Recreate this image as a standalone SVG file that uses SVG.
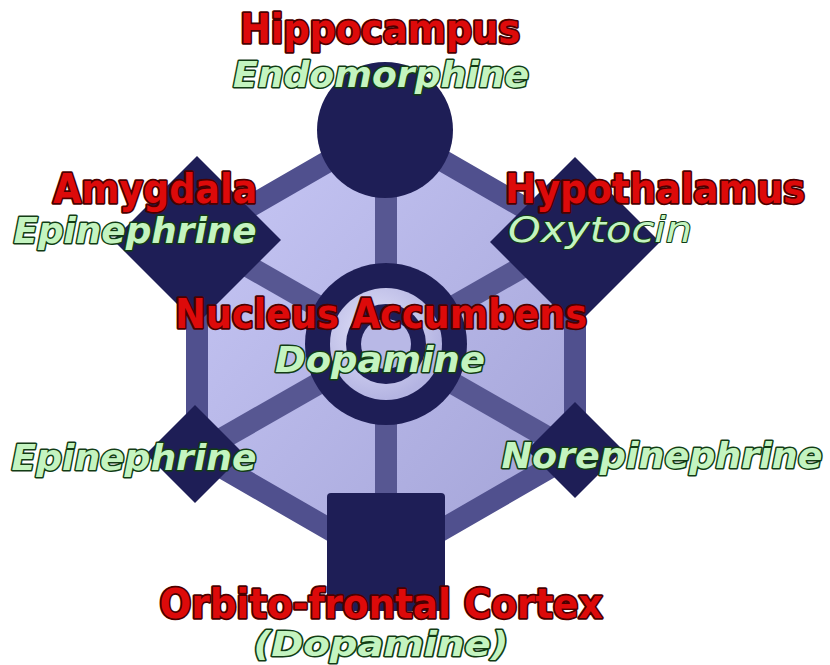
<svg xmlns="http://www.w3.org/2000/svg" width="830" height="665" viewBox="0 0 830 665">
<defs>
<linearGradient id="hexFill" x1="0" y1="0" x2="1" y2="1">
<stop offset="0" stop-color="#c8c8f6"/>
<stop offset="1" stop-color="#a2a2d6"/>
</linearGradient>
<radialGradient id="bandFill" cx="0.4" cy="0.4" r="0.6">
<stop offset="0" stop-color="#e4e4fa"/>
<stop offset="1" stop-color="#b4b4e2"/>
</radialGradient>
<style>
.edge{fill:none;stroke:#50508e;stroke-width:22;stroke-linejoin:round}
.spoke{fill:none;stroke:#575792;stroke-width:22}
.node{fill:#1e1e56}
.name{font-family:"DejaVu Sans Condensed","DejaVu Sans","Liberation Sans",sans-serif;font-weight:bold;fill:#dd0a0a;stroke:#4a0000;stroke-width:3.4;paint-order:stroke;stroke-linejoin:round}
.chem{font-family:"DejaVu Sans","Liberation Sans",sans-serif;font-style:italic;font-weight:bold;fill:#c4f4c0;stroke:#123c14;stroke-width:3;paint-order:stroke;stroke-linejoin:round}
</style>
</defs>
<rect width="830" height="665" fill="#ffffff"/>
<polygon id="hexagon" points="386,128 197,237 197,453 386,562 575,453 575,237" fill="url(#hexFill)"/>
<g id="connectors">
<polygon class="edge" points="386,128 197,237 197,453 386,562 575,453 575,237"/>
<line class="spoke" x1="386" y1="128" x2="386" y2="562"/>
<line class="spoke" x1="197" y1="237" x2="575" y2="453"/>
<line class="spoke" x1="575" y1="237" x2="197" y2="453"/>
</g>
<g id="hippocampus">
<circle class="node" cx="385" cy="130" r="68"/>
<text class="name" x="380" y="43" text-anchor="middle" font-size="40" textLength="280" lengthAdjust="spacingAndGlyphs">Hippocampus</text>
<text class="chem" x="381" y="87" text-anchor="middle" font-size="36" textLength="296" lengthAdjust="spacingAndGlyphs">Endomorphine</text>
</g>
<g id="amygdala">
<polygon class="node" points="197,156 281,240 197,324 113,240"/>
<text class="name" x="155" y="203" text-anchor="middle" font-size="40" textLength="204" lengthAdjust="spacingAndGlyphs">Amygdala</text>
<text class="chem" x="135" y="243" text-anchor="middle" font-size="36" textLength="243" lengthAdjust="spacingAndGlyphs">Epinephrine</text>
</g>
<g id="hypothalamus">
<polygon class="node" points="575,157 660,242 575,327 490,242"/>
<text class="name" x="655" y="203" text-anchor="middle" font-size="40" textLength="300" lengthAdjust="spacingAndGlyphs">Hypothalamus</text>
<text class="chem" x="600" y="242" text-anchor="middle" font-size="36" textLength="184" lengthAdjust="spacingAndGlyphs" style="font-weight:normal;stroke-width:2">Oxytocin</text>
</g>
<g id="nucleus-accumbens">
<circle class="node" cx="386" cy="344" r="81"/>
<circle cx="386" cy="344" r="56" fill="url(#bandFill)"/>
<circle class="node" cx="386" cy="344" r="40"/>
<circle cx="386" cy="344" r="25" fill="#b8b8e6"/>
<text class="name" x="381" y="328" text-anchor="middle" font-size="40" textLength="412" lengthAdjust="spacingAndGlyphs">Nucleus Accumbens</text>
<text class="chem" x="380" y="372" text-anchor="middle" font-size="36" textLength="210" lengthAdjust="spacingAndGlyphs">Dopamine</text>
</g>
<g id="epinephrine-lower">
<polygon class="node" points="195,405 244,454 195,503 146,454"/>
<text class="chem" x="134" y="470" text-anchor="middle" font-size="36" textLength="245" lengthAdjust="spacingAndGlyphs">Epinephrine</text>
</g>
<g id="norepinephrine">
<polygon class="node" points="575,402 623,450 575,498 527,450"/>
<text class="chem" x="662" y="468" text-anchor="middle" font-size="36" textLength="321" lengthAdjust="spacingAndGlyphs">Norepinephrine</text>
</g>
<g id="orbito-frontal-cortex">
<rect class="node" x="327" y="493" width="118" height="118" rx="4"/>
<text class="name" x="381" y="618" text-anchor="middle" font-size="40" textLength="443" lengthAdjust="spacingAndGlyphs">Orbito-frontal Cortex</text>
<text class="chem" x="381" y="656" text-anchor="middle" font-size="33" textLength="255" lengthAdjust="spacingAndGlyphs">(Dopamine)</text>
</g>
</svg>
